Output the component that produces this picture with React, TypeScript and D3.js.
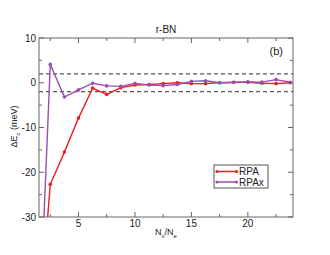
import React, { useRef, useEffect } from 'react';
import * as d3 from 'd3';

// N_v / N_e values
const xValues = [1.25, 2.5, 3.75, 5, 6.25, 7.5, 8.75, 10, 11.25, 12.5, 13.75, 15, 16.25, 17.5, 18.75, 20, 21.25, 22.5, 23.75];
const rpaValues = [-62, -22.7, -15.5, -7.9, -1.2, -2.6, -1.1, -0.5, -0.4, -0.2, 0, -0.2, -0.2, 0, 0.1, 0.1, -0.1, -0.2, 0];
const rpaxValues = [-72, 4.1, -3.2, -1.6, -0.1, -0.7, -0.8, -0.15, -0.5, -0.65, -0.4, 0.3, 0.45, 0, 0.05, 0.2, 0.15, 0.7, 0.1];
const seriesNames = ['RPA', 'RPAx'];
const seriesColors = ['#ee1c1c', '#9b4db3'];
const xTicks = [5, 10, 15, 20];
const yTicks = [10, 0, -10, -20, -30];
const refLines = [2, -2];

const App: React.FC = () => {
  const svgRef = useRef<SVGSVGElement>(null);

  useEffect(() => {
    if (!svgRef.current) return;
    const width = 330;
    const height = 255;
    const margin = { top: 38, right: 37, bottom: 38, left: 39 };
    const innerWidth = width - margin.left - margin.right;
    const innerHeight = height - margin.top - margin.bottom;
    const font = 'Liberation Sans, Arial, sans-serif';
    const axisColor = '#666';

    const svg = d3.select(svgRef.current);
    svg.selectAll('*').remove();

    const x = d3.scaleLinear().domain([1.5, 24]).range([0, innerWidth]);
    const y = d3.scaleLinear().domain([-30, 10]).range([innerHeight, 0]);

    svg.append('defs').append('clipPath').attr('id', 'plot-clip')
      .append('rect').attr('width', innerWidth).attr('height', innerHeight);

    const g = svg.append('g').attr('transform', `translate(${margin.left},${margin.top})`);

    // dashed reference lines
    refLines.forEach(v => {
      g.append('line')
        .attr('x1', 0).attr('x2', innerWidth)
        .attr('y1', y(v)).attr('y2', y(v))
        .attr('stroke', '#555')
        .attr('stroke-width', 1.2)
        .attr('stroke-dasharray', '4,3');
    });

    // series
    const allSeries = [rpaValues, rpaxValues];
    const plot = g.append('g').attr('clip-path', 'url(#plot-clip)');
    allSeries.forEach((vals, i) => {
      const pts = xValues.map((xv, j) => [xv, vals[j]] as [number, number]);
      const line = d3.line<[number, number]>().x(d => x(d[0])).y(d => y(d[1]));
      plot.append('path')
        .datum(pts)
        .attr('fill', 'none')
        .attr('stroke', seriesColors[i])
        .attr('stroke-width', 1.4)
        .attr('d', line);
      plot.selectAll(null)
        .data(pts)
        .enter()
        .append('circle')
        .attr('cx', d => x(d[0]))
        .attr('cy', d => y(d[1]))
        .attr('r', 1.8)
        .attr('fill', seriesColors[i]);
    });

    // frame
    g.append('rect')
      .attr('width', innerWidth).attr('height', innerHeight)
      .attr('fill', 'none').attr('stroke', axisColor).attr('stroke-width', 1);

    // x axis ticks (major + minor), bottom and top
    const xMinor = d3.range(2.5, 24, 2.5);
    xMinor.forEach(v => {
      const major = xTicks.includes(v);
      const len = major ? 5 : 3;
      g.append('line').attr('x1', x(v)).attr('x2', x(v))
        .attr('y1', innerHeight).attr('y2', innerHeight - len).attr('stroke', axisColor);
      g.append('line').attr('x1', x(v)).attr('x2', x(v))
        .attr('y1', 0).attr('y2', len).attr('stroke', axisColor);
    });
    xTicks.forEach(v => {
      g.append('text')
        .attr('x', x(v)).attr('y', innerHeight + 10)
        .attr('text-anchor', 'middle')
        .attr('font-family', font).attr('font-size', 10).attr('fill', '#222')
        .text(v);
    });

    // y axis ticks
    const yMinor = d3.range(-30, 10.1, 5);
    yMinor.forEach(v => {
      const major = yTicks.includes(v);
      const len = major ? 5 : 3;
      g.append('line').attr('x1', 0).attr('x2', len)
        .attr('y1', y(v)).attr('y2', y(v)).attr('stroke', axisColor);
      g.append('line').attr('x1', innerWidth).attr('x2', innerWidth - len)
        .attr('y1', y(v)).attr('y2', y(v)).attr('stroke', axisColor);
    });
    yTicks.forEach(v => {
      g.append('text')
        .attr('x', -3).attr('y', y(v) + 3.5)
        .attr('text-anchor', 'end')
        .attr('font-family', font).attr('font-size', 10).attr('fill', '#222')
        .text(v);
    });

    // title and panel label
    svg.append('text')
      .attr('x', margin.left + innerWidth / 2).attr('y', 33)
      .attr('text-anchor', 'middle')
      .attr('font-family', font).attr('font-size', 10).attr('fill', '#222')
      .text('r-BN');
    g.append('text')
      .attr('x', innerWidth - 10).attr('y', 17)
      .attr('text-anchor', 'end')
      .attr('font-family', font).attr('font-size', 11).attr('fill', '#222')
      .text('(b)');

    // x label N_v/N_e
    const xl = svg.append('text')
      .attr('x', margin.left + innerWidth / 2).attr('y', height - 20)
      .attr('text-anchor', 'middle')
      .attr('font-family', font).attr('font-size', 9).attr('fill', '#222');
    xl.append('tspan').text('N');
    xl.append('tspan').attr('font-size', 6).attr('dy', 3).text('v');
    xl.append('tspan').attr('dy', -3).text('/N');
    xl.append('tspan').attr('font-size', 6).attr('dy', 3).text('e');

    // y label ΔE_c (meV)
    const yl = svg.append('text')
      .attr('transform', `translate(17,${margin.top + innerHeight / 2 - 1}) rotate(-90)`)
      .attr('text-anchor', 'middle')
      .attr('font-family', font).attr('font-size', 9).attr('fill', '#222');
    yl.append('tspan').text('ΔE');
    yl.append('tspan').attr('font-size', 6).attr('dy', 3).text('c');
    yl.append('tspan').attr('dy', -3).text(' (meV)');

    // legend
    const lg = svg.append('g').attr('transform', 'translate(214,165)');
    lg.append('rect').attr('width', 54).attr('height', 23)
      .attr('fill', 'white').attr('stroke', '#555').attr('stroke-width', 1);
    seriesNames.forEach((name, i) => {
      const ly = 6.5 + i * 10.5;
      lg.append('line').attr('x1', 3).attr('x2', 22.5).attr('y1', ly).attr('y2', ly)
        .attr('stroke', seriesColors[i]).attr('stroke-width', 1.5);
      [3, 22.5].forEach(cx => {
        lg.append('circle').attr('cx', cx).attr('cy', ly).attr('r', 1.6).attr('fill', seriesColors[i]);
      });
      lg.append('text').attr('x', 25).attr('y', ly + 3.5)
        .attr('font-family', font).attr('font-size', 10).attr('fill', '#222')
        .text(name);
    });
  }, []);

  return (
    <svg
      ref={svgRef}
      width={330}
      height={255}
      style={{ position: 'absolute', left: 0, top: 0, background: 'white' }}
    />
  );
};

export default App;
